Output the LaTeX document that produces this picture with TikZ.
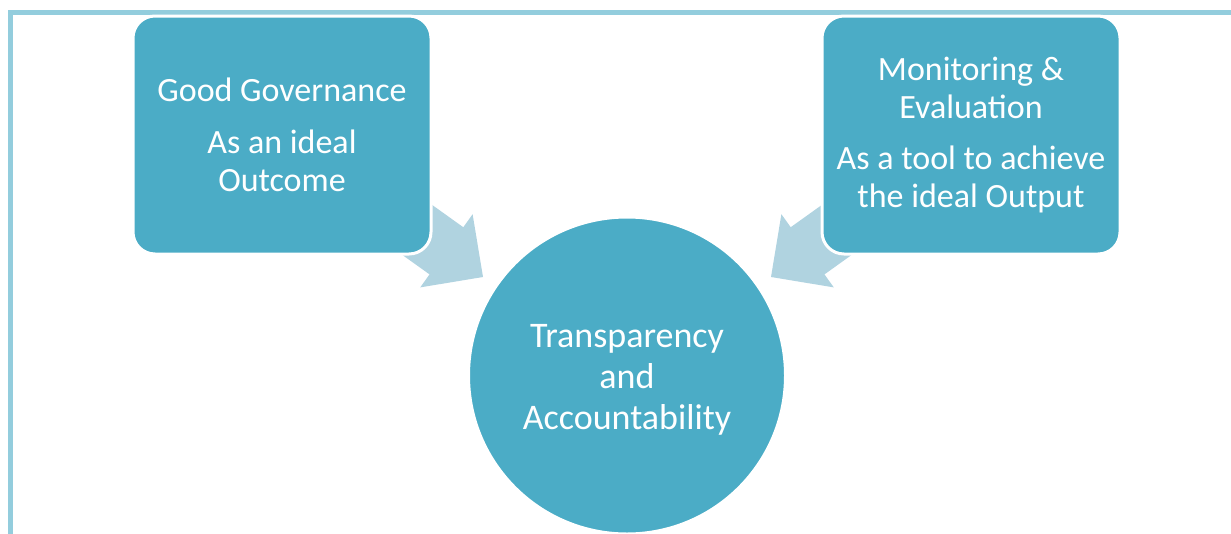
\documentclass[tikz,border=0pt]{standalone}
\usepackage{fontspec}
\setmainfont{Carlito}
\definecolor{boxblue}{HTML}{4BACC6}
\definecolor{arrowblue}{HTML}{B0D3E0}
\definecolor{frameblue}{HTML}{93CDDD}
\tikzset{
  boxnode/.style={rectangle, rounded corners=22pt, fill=boxblue, draw=white, line width=3pt,
    minimum width=298pt, minimum height=238pt, text=white, align=center, inner sep=0pt,
    font=\fontsize{34}{37.5}\selectfont},
  centernode/.style={circle, fill=boxblue, draw=white, line width=3pt, minimum size=317pt,
    inner sep=0pt},
  centertext/.style={text=white, align=center, inner sep=0pt, font=\fontsize{36}{41}\selectfont},
  arrowshape/.style={fill=arrowblue},
  framestyle/.style={draw=frameblue, line width=5pt}
}
\begin{document}
\begin{tikzpicture}[x=1pt,y=-1pt]
\useasboundingbox (0,0) rectangle (1231,533);
\clip (0,0) rectangle (1231,533);
\draw[framestyle] (10.5,12.5) rectangle (1260,560);
% arrows
\begin{scope}[shift={(483,277)}, rotate=-35.6]
  \fill[arrowshape] (0,0) -- (-45,-45) -- (-45,-29) -- (-140,-29) -- (-115,0) -- (-140,29) -- (-45,29) -- (-45,45) -- cycle;
\end{scope}
\begin{scope}[shift={(771,277)}, rotate=-144.4]
  \fill[arrowshape] (0,0) -- (-45,-45) -- (-45,-29) -- (-140,-29) -- (-115,0) -- (-140,29) -- (-45,29) -- (-45,45) -- cycle;
\end{scope}
\node[boxnode] (gg) at (282,135) {Good Governance\\[14.5pt]As an ideal\\Outcome};
\node[boxnode] (me) at (971,135) {Monitoring \&\\Evaluation\\[14pt]As a tool to achieve\\the ideal Output};
\node[centernode] (ta) at (627,375.5) {};
\node[centertext] (tatext) at ([yshift=-4.5pt]ta.center) {Transparency\\and\\Accountability};
\end{tikzpicture}
\end{document}
